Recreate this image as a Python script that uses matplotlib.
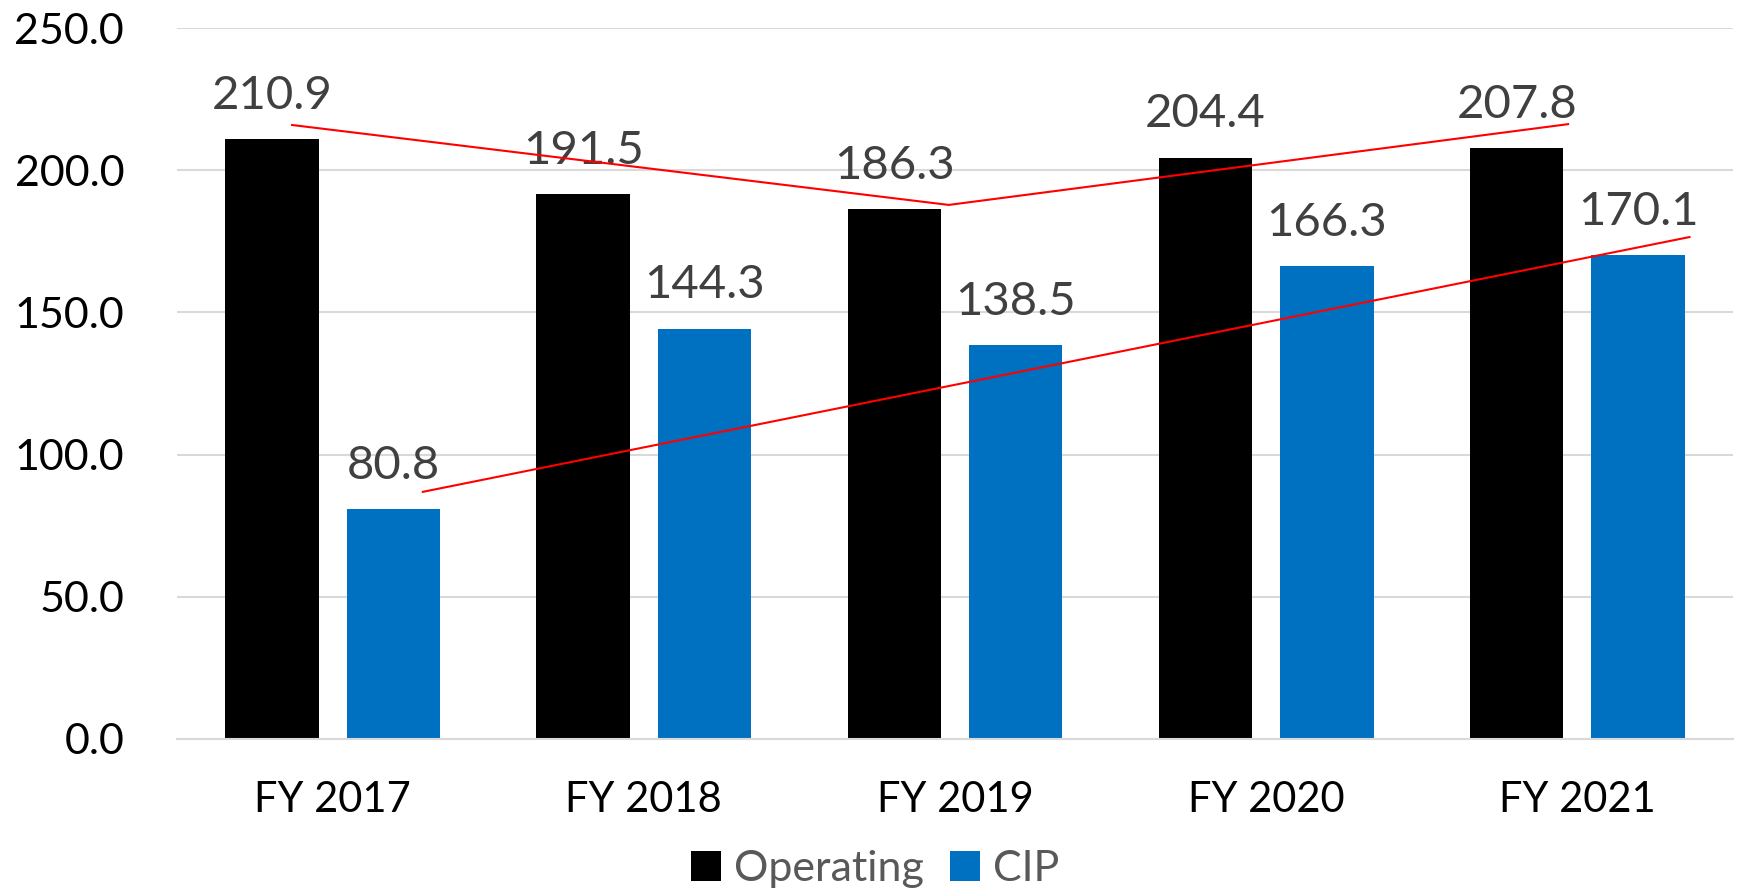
import matplotlib
matplotlib.use("Agg")
import matplotlib.pyplot as plt
import numpy as np

plt.rcParams['font.family'] = ['Lato', 'DejaVu Sans']

# chart data
years = ["FY 2017", "FY 2018", "FY 2019", "FY 2020", "FY 2021"]
operating = [210.9, 191.5, 186.3, 204.4, 207.8]
cip = [80.8, 144.3, 138.5, 166.3, 170.1]

# hand-drawn red trend lines (x in category units, y in data units)
op_trend_x = [-0.13, 1.98, 3.97]
op_trend_y = [215.9, 187.8, 216.2]
cip_trend_x = [0.29, 4.36]
cip_trend_y = [86.9, 176.5]

fig = plt.figure(figsize=(17.4, 8.93), dpi=100)
ax = fig.add_axes([0.1017, 0.1725, 0.8943, 0.7961])

x = np.arange(len(years))
w = 0.30
off = 0.195
b1 = ax.bar(x - off, operating, w, color="black", label="Operating", zorder=2)
b2 = ax.bar(x + off, cip, w, color="#0070C0", label="CIP", zorder=2)

for bars, vals in [(b1, operating), (b2, cip)]:
    for r, v in zip(bars, vals):
        ax.annotate(f"{v:.1f}", (r.get_x() + r.get_width() / 2, v),
                    xytext=(0, 16), textcoords="offset points",
                    ha="center", va="bottom", fontsize=34, color="#404040", zorder=3)

ax.plot(op_trend_x, op_trend_y, color="red", lw=1.5, zorder=4)
ax.plot(cip_trend_x, cip_trend_y, color="red", lw=1.5, zorder=4)

ax.set_xlim(-0.5, len(years) - 0.5)
ax.set_ylim(0, 250)
ax.set_yticks(np.arange(0, 251, 50))
ax.set_yticklabels([f"{t:.1f}" for t in np.arange(0, 251, 50)])
ax.set_xticks(x)
ax.set_xticklabels(years)
ax.tick_params(axis="y", length=0, pad=38, labelsize=31, labelcolor="black")
ax.tick_params(axis="x", length=0, pad=30, labelsize=30, labelcolor="black")
ax.grid(axis="y", color="#D9D9D9", lw=1.5, zorder=0)
for s in ["top", "right", "left"]:
    ax.spines[s].set_visible(False)
ax.spines["bottom"].set_color("#D9D9D9")
ax.spines["bottom"].set_linewidth(1.5)

leg = fig.legend(handles=[b1, b2], loc="center", bbox_to_anchor=(0.503, 0.027),
                 ncol=2, frameon=False, fontsize=31, handlelength=0.7, handleheight=0.7,
                 handletextpad=0.3, columnspacing=0.6)
for t in leg.get_texts():
    t.set_color("#595959")

fig.savefig("out.png", dpi=100)
